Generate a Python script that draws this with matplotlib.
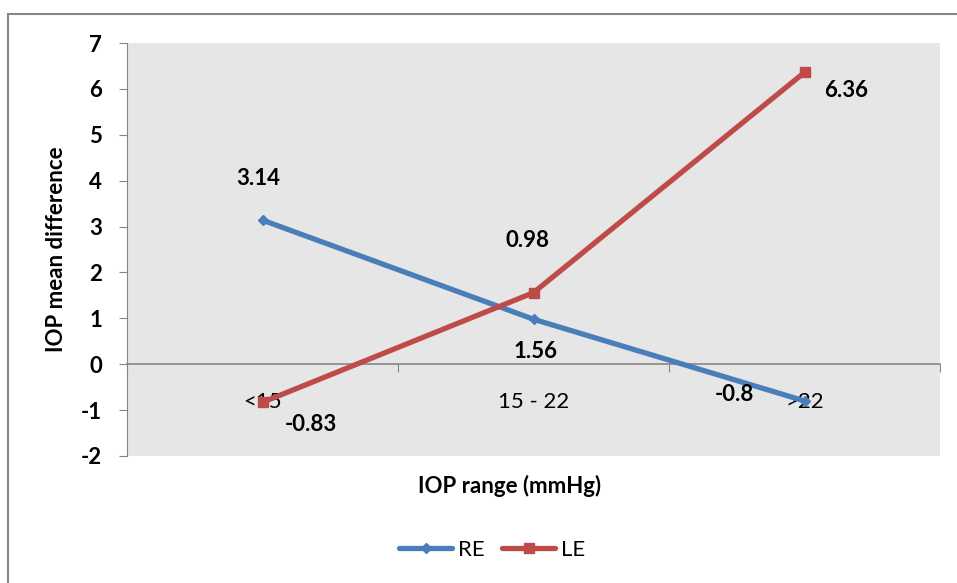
import matplotlib.pyplot as plt
from matplotlib.patches import Rectangle

categories = ["<15", "15 - 22", ">22"]
re_values = [3.14, 0.98, -0.8]
le_values = [-0.83, 1.56, 6.36]
re_labels = ["3.14", "0.98", "-0.8"]
le_labels = ["-0.83", "1.56", "6.36"]

plt.rcParams['font.family'] = ['Lato', 'DejaVu Sans']
fs = 16

fig = plt.figure(figsize=(9.57, 5.83), dpi=100)
ax = fig.add_axes([127/957, (583-456)/583, (940-127)/957, (456-43)/583])
ax.set_facecolor('#e6e6e6')

# outer chart border
fig.patches.append(Rectangle((8/957, -0.05), 1.0, (583-14)/583 + 0.05,
                             transform=fig.transFigure, fill=False,
                             edgecolor='#868686', lw=1.5))

x = list(range(len(categories)))
ax.plot(x, re_values, color='#4a7ebb', lw=3.8, marker='D', ms=5,
        label='RE', solid_capstyle='round', zorder=3)
ax.plot(x, le_values, color='#be4b48', lw=3.8, marker='s', ms=7,
        label='LE', solid_capstyle='round', zorder=3)

ax.set_xlim(-0.5, 2.5)
ax.set_ylim(-2, 7)
ax.set_yticks(range(-2, 8))
ax.set_yticklabels([str(v) for v in range(-2, 8)])
ax.tick_params(axis='y', direction='out', length=6, color='#868686',
               labelsize=fs, pad=12)
for t in ax.get_yticklabels():
    t.set_fontweight('bold')

for s in ['top', 'right']:
    ax.spines[s].set_visible(False)
ax.spines['left'].set_color('#868686')
ax.spines['bottom'].set_position(('data', 0))
ax.spines['bottom'].set_color('#868686')
ax.spines['bottom'].set_linewidth(1.2)
ax.set_xticks([-0.5, 0.5, 1.5, 2.5])
ax.set_xticklabels([])
ax.tick_params(axis='x', which='major', direction='out', length=6, color='#868686')
ax.set_xticks(x, minor=True)
ax.set_xticklabels(categories, minor=True, fontsize=fs)
ax.tick_params(axis='x', which='minor', length=0, pad=20)

# data labels
re_off = [(-4, 42), (-6, 79), (-70, 6)]
le_off = [(48, -22), (2, -59), (42, -18)]
for i in x:
    ax.annotate(re_labels[i], (i, re_values[i]), textcoords='offset pixels',
                xytext=re_off[i], ha='center', va='center',
                fontsize=fs, fontweight='bold')
    ax.annotate(le_labels[i], (i, le_values[i]), textcoords='offset pixels',
                xytext=le_off[i], ha='center', va='center',
                fontsize=fs, fontweight='bold')

ax.set_ylabel('IOP mean difference', fontsize=fs, fontweight='bold', labelpad=10)
fig.text(510/957, 1 - 486/583, 'IOP range (mmHg)', ha='center', va='center',
         fontsize=fs, fontweight='bold')

fig.legend(loc='center', bbox_to_anchor=(492/957, 1 - 550/583), ncol=2,
           frameon=False, fontsize=fs, handlelength=2.4, columnspacing=0.8,
           handletextpad=0.25)

fig.savefig('out.png', dpi=100)
